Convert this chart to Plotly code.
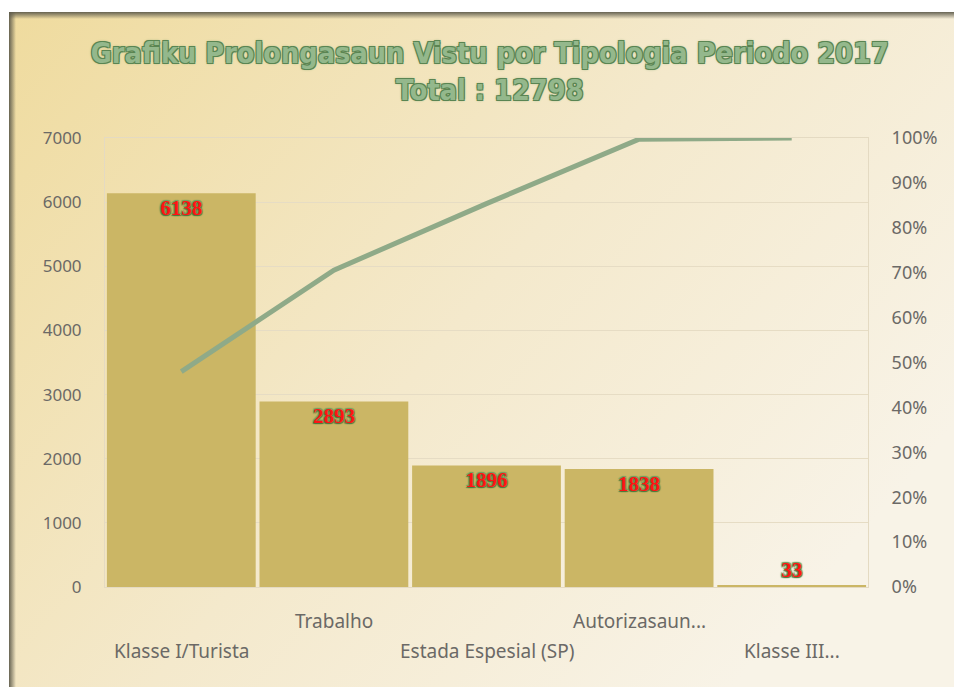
import base64
import numpy as np
import plotly.graph_objects as go

# ---- data ----
categories = ["Klasse I/Turista", "Trabalho", "Estada Espesial (SP)", "Autorizasaun...", "Klasse III..."]
counts = [6138, 2893, 1896, 1838, 33]
label_rows = ["lower", "upper", "lower", "upper", "lower"]
title_line1 = "Grafiku Prolongasaun Vistu por Tipologia Periodo 2017"
title_line2 = "Total : 12798"

# the page body adds an 8px margin, so the figure is 8px smaller than the window
W, H = 954, 679
L, R, T, B = 97, 94, 130, 100
pw, ph = W - L - R, H - T - B

cum_pct = np.cumsum(counts) / np.sum(counts)

svg = f"""<svg xmlns='http://www.w3.org/2000/svg' width='{W}' height='{H}' viewBox='0 0 {W} {H}'>
<defs>
<linearGradient id='g' x1='0' y1='0' x2='1' y2='0.6'>
<stop offset='0' stop-color='#efdb9e'/>
<stop offset='0.55' stop-color='#f4e9cc'/>
<stop offset='1' stop-color='#f8f3e7'/>
</linearGradient>
<linearGradient id='sl' x1='0' y1='0' x2='1' y2='0'>
<stop offset='0' stop-color='#5f5c4c' stop-opacity='0.95'/>
<stop offset='1' stop-color='#5f5c4c' stop-opacity='0'/>
</linearGradient>
<linearGradient id='st' x1='0' y1='0' x2='0' y2='1'>
<stop offset='0' stop-color='#5f5c4c' stop-opacity='0.95'/>
<stop offset='1' stop-color='#5f5c4c' stop-opacity='0'/>
</linearGradient>
</defs>
<rect x='0' y='0' width='{W}' height='{H}' fill='#ffffff'/>
<rect x='1' y='4' width='{W-1}' height='{H-4}' fill='url(#g)'/>
<rect x='1' y='4' width='7' height='{H-4}' fill='url(#sl)'/>
<rect x='1' y='4' width='{W-1}' height='7' fill='url(#st)'/>
</svg>"""
src = "data:image/svg+xml;base64," + base64.b64encode(svg.encode()).decode()

label_shadow = "1px 1px 1px #4c7a3c, -1px -1px 1px #6f9e5f, 1px -1px 1px #6f9e5f, -1px 1px 1px #4c7a3c"
title_shadow = "1px 1px 0 #5a8552, -1px -1px 0 #5a8552, 1px -1px 0 #5a8552, -1px 1px 0 #5a8552, 0 0 3px #6e9a66"
ytick_font = dict(family="Noto Sans", size=17, color="#6b6966")
xlabel_font = dict(family="Noto Sans", size=19, color="#6b6966")

fig = go.Figure()
fig.add_trace(go.Bar(
    x=categories, y=counts,
    marker=dict(color="#cbb665", line=dict(width=0)),
    text=[str(v) for v in counts],
    textposition=["inside", "inside", "inside", "inside", "outside"],
    insidetextanchor="end",
    constraintext="none",
    textangle=0,
    textfont=dict(family="Liberation Serif", size=21, color="#ff1414", weight="bold", shadow=label_shadow),
    cliponaxis=False,
    showlegend=False,
    hoverinfo="skip",
))
fig.add_trace(go.Scatter(
    x=categories, y=cum_pct, yaxis="y2", mode="lines",
    line=dict(color="#8faa88", width=5),
    showlegend=False, hoverinfo="skip",
))

annotations = []
for c, row in zip(categories, label_rows):
    annotations.append(dict(
        x=c, xref="x", y=0, yref="paper",
        text=c, showarrow=False, xanchor="center", yanchor="middle",
        yshift=-34 if row == "upper" else -64,
        font=xlabel_font,
    ))

fig.update_layout(
    width=W, height=H,
    margin=dict(l=L, r=R, t=T, b=B, autoexpand=False),
    paper_bgcolor="#f3e8c9",
    plot_bgcolor="rgba(0,0,0,0)",
    bargap=0.025,
    images=[dict(
        source=src, xref="paper", yref="paper",
        x=-L / pw, y=1 + T / ph, sizex=W / pw, sizey=H / ph,
        xanchor="left", yanchor="top", sizing="stretch", layer="below",
    )],
    title=dict(
        text=title_line1 + "<br>" + title_line2,
        x=0.505, xanchor="center", y=1 - 55 / H, yanchor="middle",
        font=dict(family="DejaVu Sans Condensed, DejaVu Sans", size=28.6, color="#94b88c",
                  weight="bold", shadow=title_shadow),
    ),
    xaxis=dict(
        showticklabels=False, showgrid=False, ticks="",
        showline=True, mirror=True, linecolor="#e4dac2", linewidth=1,
    ),
    yaxis=dict(
        range=[0, 7000], dtick=1000, showgrid=True, gridcolor="#e6dcc4", gridwidth=1,
        zeroline=False, showline=True, linecolor="#e4dac2", ticks="",
        ticklabelstandoff=19,
        tickfont=ytick_font,
    ),
    yaxis2=dict(
        overlaying="y", side="right", range=[0, 1], dtick=0.1, tickformat=".0%",
        showgrid=False, zeroline=False, showline=True, linecolor="#e4dac2", ticks="",
        ticklabelstandoff=19,
        tickfont=dict(family="Noto Sans", size=18, color="#6b6966"),
    ),
    annotations=annotations,
)

fig.write_html("out.html")
